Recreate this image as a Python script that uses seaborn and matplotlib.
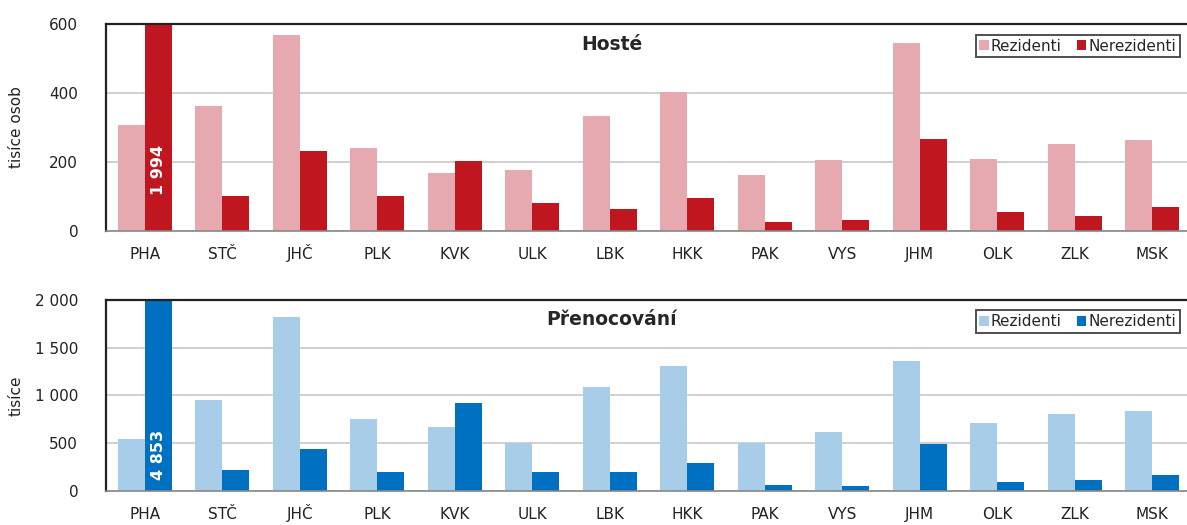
import matplotlib.pyplot as plt
import matplotlib.ticker as mticker
import pandas as pd
import seaborn as sns

# Data (thousands)
kraje = ['PHA', 'STČ', 'JHČ', 'PLK', 'KVK', 'ULK', 'LBK',
         'HKK', 'PAK', 'VYS', 'JHM', 'OLK', 'ZLK', 'MSK']
hoste_rez = [307, 362, 568, 240, 168, 177, 332, 402, 162, 206, 545, 208, 252, 264]
hoste_nerez = [1994, 101, 232, 101, 203, 81, 64, 96, 26, 32, 267, 55, 43, 70]
noci_rez = [544, 953, 1822, 754, 670, 503, 1089, 1309, 503, 618, 1361, 712, 806, 838]
noci_nerez = [4853, 220, 440, 199, 921, 199, 199, 293, 63, 52, 492, 94, 115, 168]

sns.set_style('white')
plt.rcParams['font.family'] = ['DejaVu Sans']


def long_df(rez, nerez):
    return pd.DataFrame({
        'kraj': kraje * 2,
        'typ': ['Rezidenti'] * len(kraje) + ['Nerezidenti'] * len(kraje),
        'hodnota': rez + nerez,
    })


def space_fmt(v, pos):
    return f'{int(v):,}'.replace(',', ' ')


def draw_panel(ax, df, colors, ymax, step, title, ylabel, big_label, label_y):
    sns.barplot(data=df, x='kraj', y='hodnota', hue='typ', palette=colors,
                width=0.7, ax=ax, saturation=1, legend=True, linewidth=0)
    ax.set_ylim(0, ymax)
    ax.set_xlim(-0.5, len(kraje) - 0.5)
    ax.yaxis.set_major_locator(mticker.MultipleLocator(step))
    ax.yaxis.set_major_formatter(mticker.FuncFormatter(space_fmt))
    ax.grid(axis='y', color='#c8c8c8', lw=1.2)
    ax.set_axisbelow(True)
    for s in ['top', 'left', 'right']:
        ax.spines[s].set_color('#222222')
        ax.spines[s].set_linewidth(1.6)
    ax.spines['bottom'].set_color('#888888')
    ax.spines['bottom'].set_linewidth(1.2)
    ax.tick_params(axis='both', length=0, labelsize=11, colors='#222222')
    ax.tick_params(axis='x', pad=20)
    ax.tick_params(axis='y', pad=20)
    for lab in ax.get_xticklabels():
        lab.set_va('baseline')
    ax.set_xlabel('')
    ax.set_ylabel(ylabel, fontsize=11, color='#222222')
    ax.yaxis.set_label_coords(-0.076, 0.5)
    ax.text(0.466, 0.9, title, transform=ax.transAxes, ha='center',
            va='center', fontsize=13.5, fontweight='bold')
    # value of the clipped Prague bar
    ax.text(0.175, label_y, big_label, rotation=90, color='white',
            fontweight='bold', fontsize=11.5, ha='center', va='bottom')
    leg = ax.legend(loc='upper right', ncol=2, frameon=True, fontsize=11,
                    handlelength=0.6, handleheight=0.6, handletextpad=0.15,
                    columnspacing=1.0, borderpad=0.25, fancybox=False,
                    bbox_to_anchor=(0.997, 0.985))
    leg.get_frame().set_edgecolor('#222222')
    leg.get_frame().set_linewidth(1.4)


fig = plt.figure(figsize=(11.87, 5.25), dpi=100)
ax1 = fig.add_axes([0.0893, 0.56, 0.914, 0.3943])
ax2 = fig.add_axes([0.0893, 0.0648, 0.914, 0.3638])

draw_panel(ax1, long_df(hoste_rez, hoste_nerez), ['#e6a9b0', '#c0161f'],
           600, 200, 'Hosté', 'tisíce osob', '1 994', 105)
draw_panel(ax2, long_df(noci_rez, noci_nerez), ['#a7cde8', '#0070c0'],
           2000, 500, 'Přenocování', 'tisíce', '4 853', 120)

fig.savefig('out.png', dpi=100)
